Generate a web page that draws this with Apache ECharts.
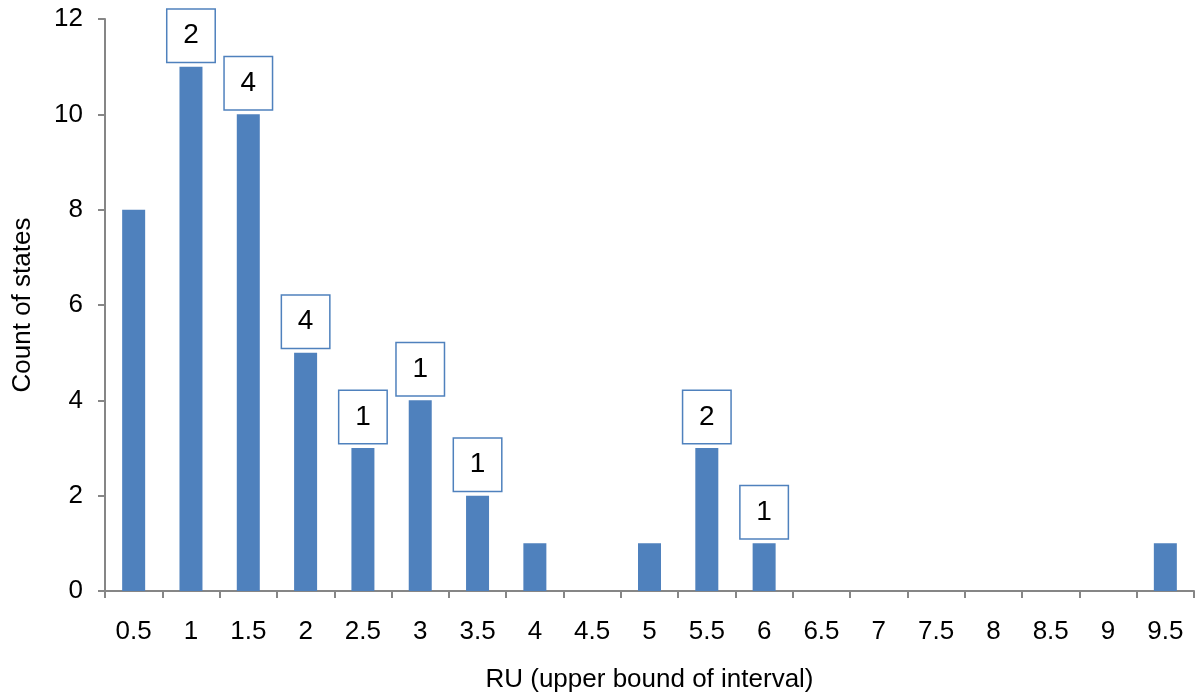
<!DOCTYPE html>
<html>
<head>
<meta charset="utf-8">
<style>
  html, body { margin: 0; padding: 0; background: #fff; }
  #chart { width: 1195px; height: 700px; }
</style>
<script src="https://cdn.jsdelivr.net/npm/echarts@6/dist/echarts.min.js"></script>
</head>
<body>
<div id="chart"></div>
<script>
// Upper bound of each RU interval
const categories = ['0.5','1','1.5','2','2.5','3','3.5','4','4.5','5','5.5','6','6.5','7','7.5','8','8.5','9','9.5'];
// Number of states falling into each interval
const counts = [8, 11, 10, 5, 3, 4, 2, 1, 0, 1, 3, 1, 0, 0, 0, 0, 0, 0, 1];
// Boxed note shown above a bar (null = no note)
const notes = [null, 2, 4, 4, 1, 1, 1, null, null, null, 2, 1, null, null, null, null, null, null, null];
// Value-axis ticks
const yTicks = { min: 0, max: 12, interval: 2 };

const FONT = '"Liberation Sans", Arial, sans-serif';
const BLUE = '#4F81BD';
const AXIS = '#868686';

const barData = counts.map((v, i) => {
  const n = notes[i];
  if (n === null) return { value: v };
  return {
    value: v,
    label: {
      show: true,
      position: 'top',
      distance: 5,
      formatter: String(n),
      fontFamily: FONT,
      fontSize: 28,
      color: '#000',
      backgroundColor: '#fff',
      borderColor: BLUE,
      borderWidth: 1.5,
      width: 47,
      height: 52,
      lineHeight: 52,
      padding: 0,
      align: 'center'
    }
  };
});

const chart = echarts.init(document.getElementById('chart'), null, { renderer: 'canvas' });
chart.setOption({
  animation: false,
  backgroundColor: '#fff',
  grid: { left: 105, right: 1, top: 19, bottom: 109, containLabel: false },
  xAxis: {
    type: 'category',
    data: categories,
    name: 'RU (upper bound of interval)',
    nameLocation: 'middle',
    nameGap: 76,
    nameTextStyle: { fontFamily: FONT, fontSize: 26, color: '#000' },
    axisLine: { lineStyle: { color: AXIS, width: 2 } },
    axisTick: { show: true, length: 7, lineStyle: { color: AXIS, width: 2 }, alignWithLabel: false },
    axisLabel: { fontFamily: FONT, fontSize: 26, color: '#000', margin: 28, interval: 0 }
  },
  yAxis: {
    type: 'value',
    min: yTicks.min,
    max: yTicks.max,
    interval: yTicks.interval,
    name: 'Count of states',
    nameLocation: 'middle',
    nameGap: 69,
    nameTextStyle: { fontFamily: FONT, fontSize: 26, color: '#000' },
    axisLine: { show: true, lineStyle: { color: AXIS, width: 2 } },
    axisTick: { show: true, length: 7, lineStyle: { color: AXIS, width: 2 } },
    splitLine: { show: false },
    axisLabel: { fontFamily: FONT, fontSize: 26, color: '#000', margin: 22 }
  },
  series: [{
    type: 'bar',
    data: barData,
    barWidth: 23,
    itemStyle: { color: BLUE },
    label: { show: false }
  }]
});
</script>
</body>
</html>
